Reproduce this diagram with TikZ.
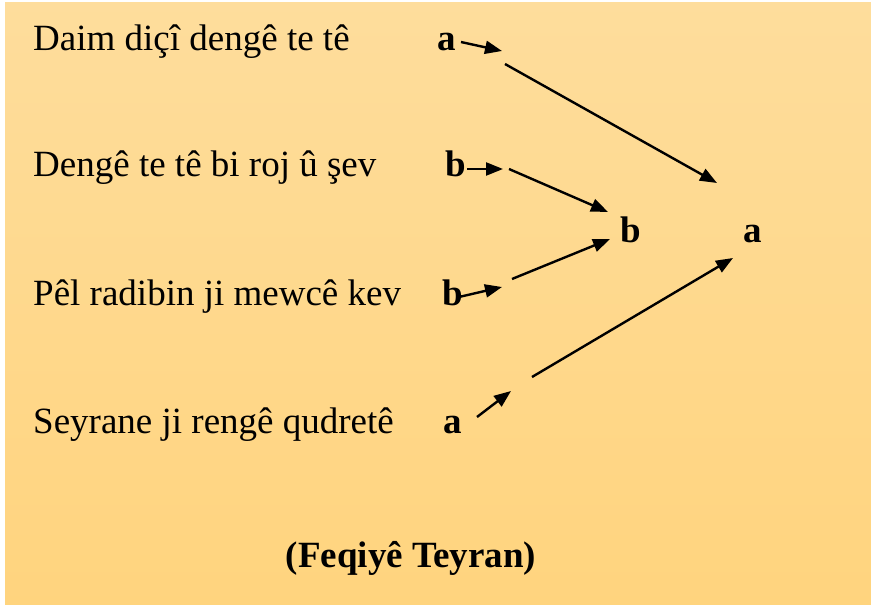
\documentclass[tikz,border=0pt]{standalone}
\usepackage{fontspec}
\setmainfont{Liberation Serif}
\usetikzlibrary{arrows.meta}
\definecolor{bgtop}{RGB}{254,221,156}
\definecolor{bgbot}{RGB}{255,212,126}
\tikzset{
  verse/.style={anchor=base west,inner sep=0pt,font=\fontsize{37}{44}\selectfont},
  letter/.style={anchor=base west,inner sep=0pt,font=\fontsize{37}{44}\selectfont\bfseries},
  conn/.style={line width=2.4pt,-{Triangle[length=17pt,width=13pt]}},
}
\begin{document}
\begin{tikzpicture}[x=1pt,y=-1pt]
\useasboundingbox (0,0) rectangle (871,605);
\shade[top color=bgtop,bottom color=bgbot] (5,2) rectangle (871,605);
% verses
\node[verse] (v1) at (33,50) {Daim diçî dengê te tê};
\node[verse] (v2) at (33,176) {Dengê te tê bi roj û şev};
\node[verse] (v3) at (33,305) {Pêl radibin ji mewcê kev};
\node[verse] (v4) at (33,433) {Seyrane ji rengê qudretê};
% rhyme letters
\node[letter] (l1) at (437,50) {a};
\node[letter] (l2) at (445,176) {b};
\node[letter] (l3) at (442,305) {b};
\node[letter] (l4) at (443,433) {a};
\node[letter] (mb) at (620,242) {b};
\node[letter] (ma) at (743,242) {a};
% arrow end points
\coordinate (s1a) at (461,42);  \coordinate (s1b) at (502,51);
\coordinate (s2a) at (467,169); \coordinate (s2b) at (503,169);
\coordinate (s3a) at (459,297); \coordinate (s3b) at (502,287);
\coordinate (s4a) at (477,417); \coordinate (s4b) at (511,391);
\coordinate (t1a) at (505,64);  \coordinate (t1b) at (717,183);
\coordinate (t2a) at (509,169); \coordinate (t2b) at (608,212);
\coordinate (t3a) at (512,279); \coordinate (t3b) at (610,239);
\coordinate (t4a) at (532,377); \coordinate (t4b) at (733,258);
% short arrows
\draw[conn] (s1a) -- (s1b);
\draw[conn] (s2a) -- (s2b);
\draw[conn] (s3a) -- (s3b);
\draw[conn] (s4a) -- (s4b);
% long arrows
\draw[conn] (t1a) -- (t1b);
\draw[conn] (t2a) -- (t2b);
\draw[conn] (t3a) -- (t3b);
\draw[conn] (t4a) -- (t4b);
% author
\node[anchor=base,inner sep=0pt,font=\fontsize{37}{44}\selectfont\bfseries] (auth) at (411,567) {(Feqiyê Teyran)};
\end{tikzpicture}
\end{document}
